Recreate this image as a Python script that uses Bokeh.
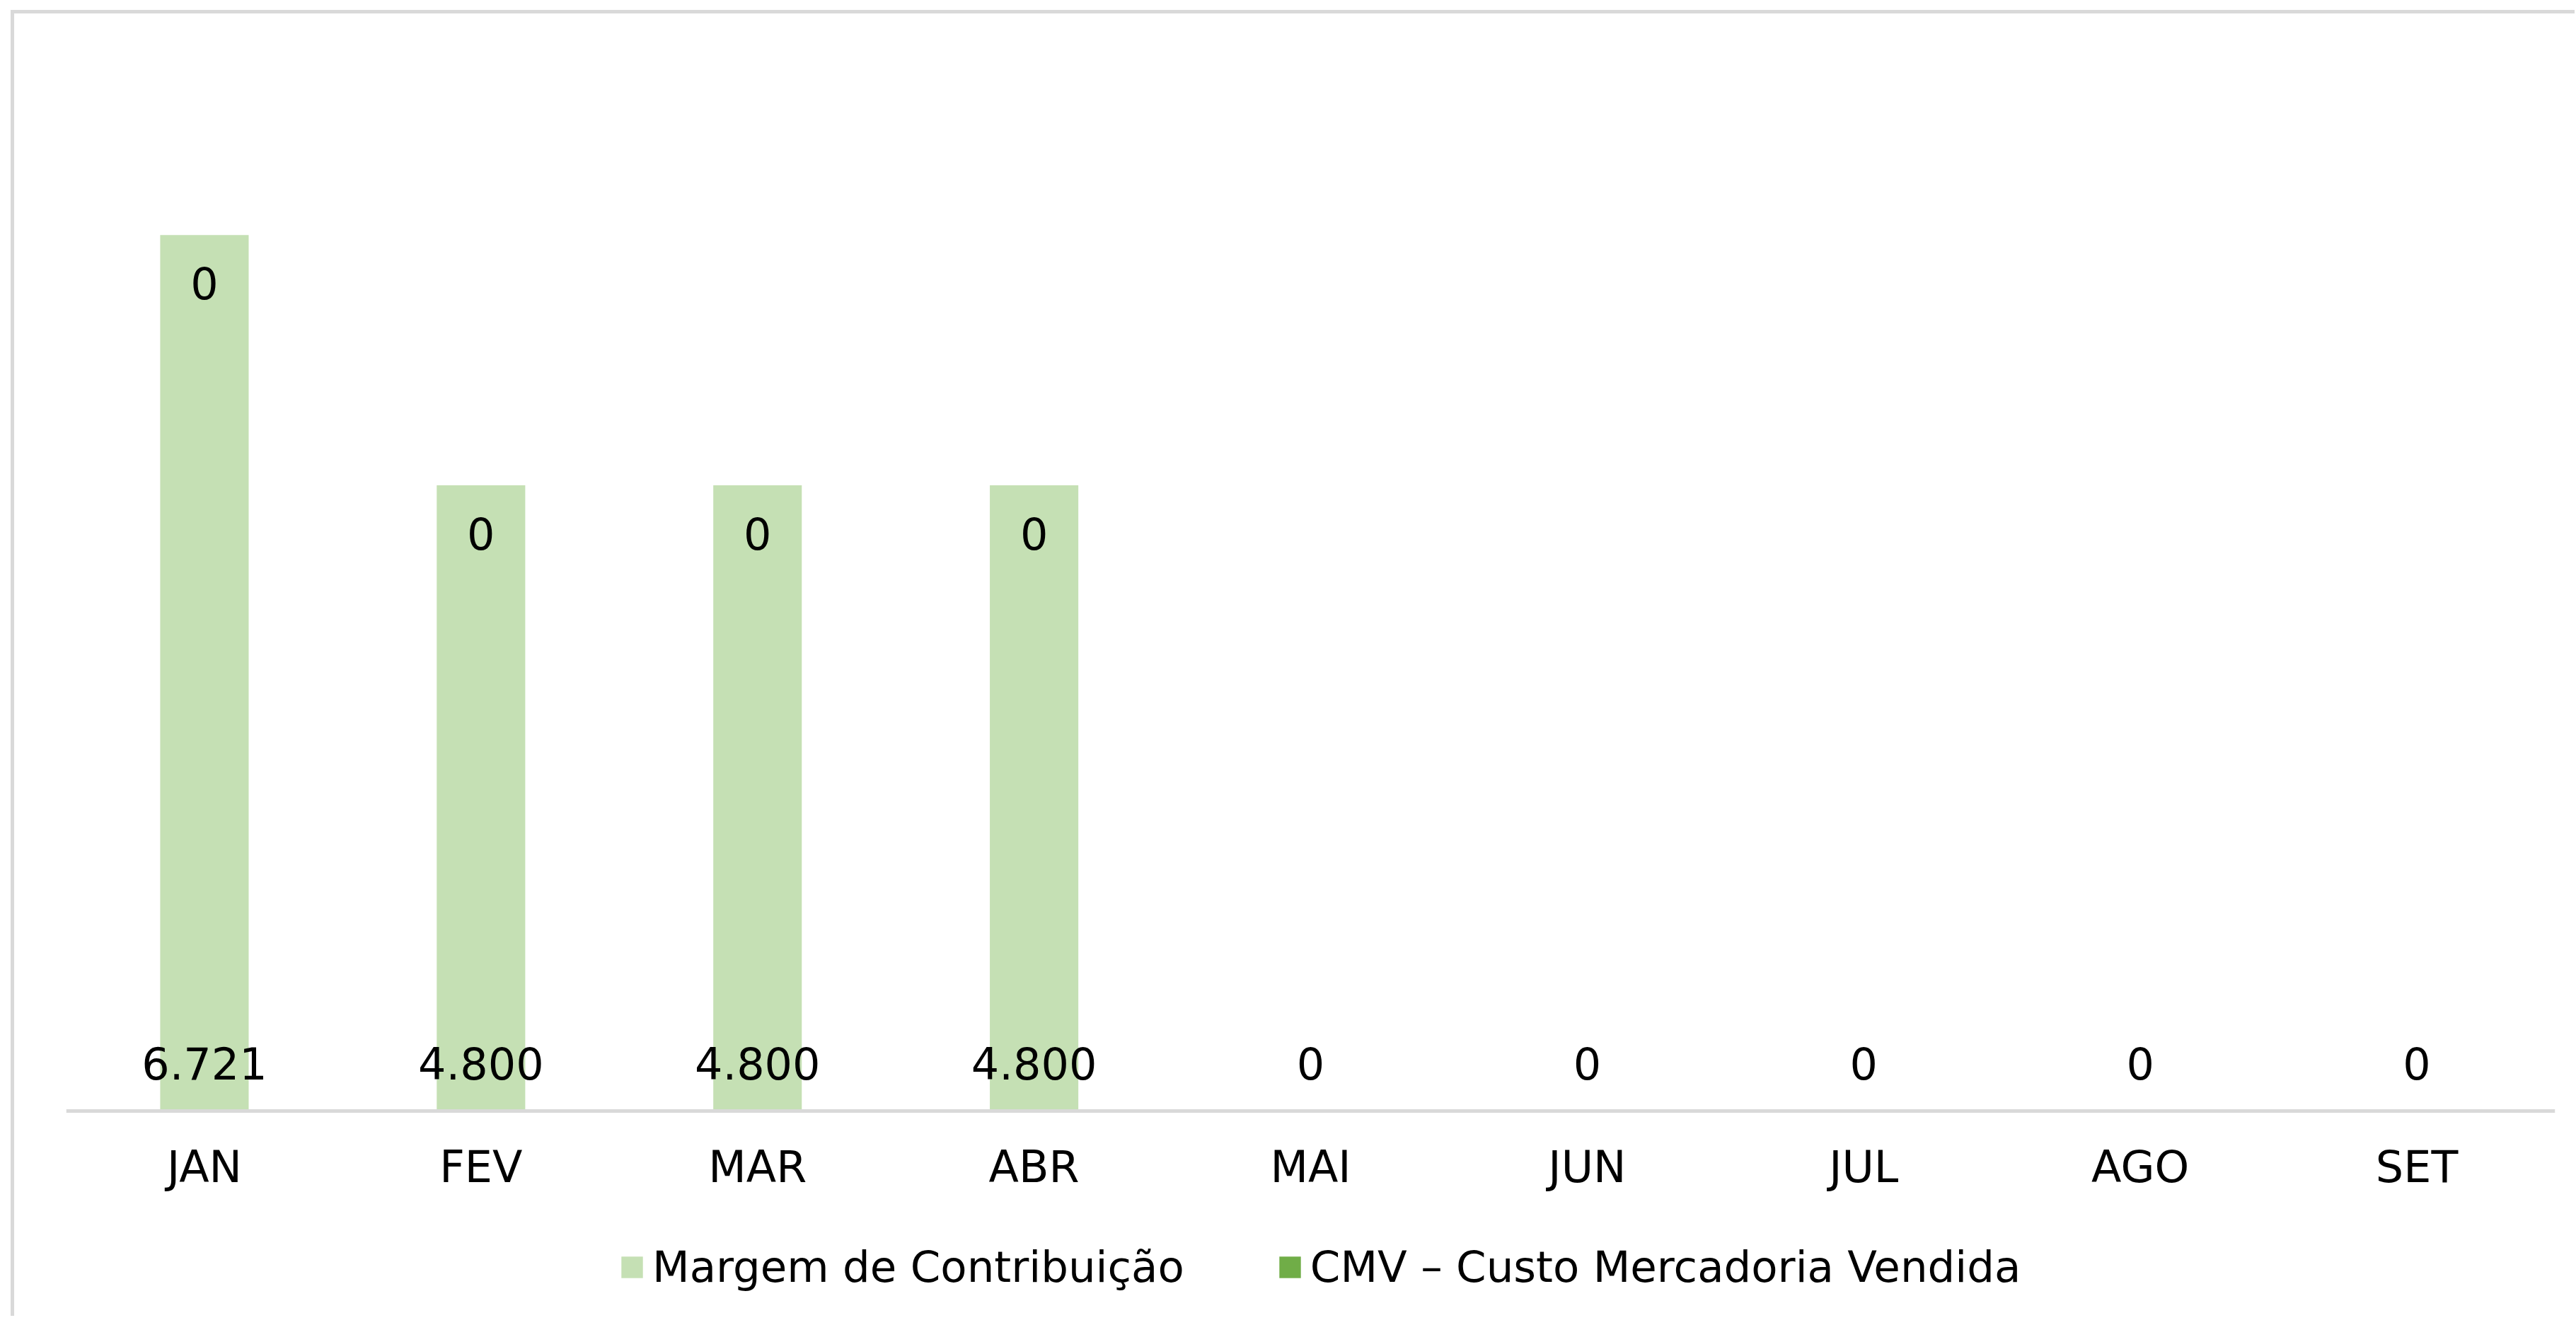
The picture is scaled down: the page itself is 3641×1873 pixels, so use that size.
from bokeh.plotting import figure
from bokeh.models import ColumnDataSource, Legend, LegendItem, Range1d, Span
from bokeh.core.properties import value
from bokeh.embed import file_html
from bokeh.resources import INLINE

# ---- data ----
months = ["JAN", "FEV", "MAR", "ABR", "MAI", "JUN", "JUL", "AGO", "SET"]
margem = [6721, 4800, 4800, 4800, 0, 0, 0, 0, 0]
cmv = [0, 0, 0, 0, 0, 0, 0, 0, 0]
series_names = ["Margem de Contribuição", "CMV – Custo Mercadoria Vendida"]
colors = ["#c5e0b4", "#70ad47"]
y_max = 8000

def fmt(v):
    return f"{v:,}".replace(",", ".")

FONT = "DejaVu Sans"

# layout (pixels): plotting area above the baseline and room below it
AREA_H = 1474
BELOW_H = 290
y_min = -y_max * BELOW_H / AREA_H

src = ColumnDataSource(dict(
    month=months,
    margem=margem,
    cmv=cmv,
    margem_lbl=[fmt(v) for v in margem],
    base=[0] * len(months),
))

p = figure(
    x_range=months,
    y_range=Range1d(y_min, y_max),
    frame_width=3518, frame_height=AREA_H + BELOW_H,
    output_backend="svg", toolbar_location=None,
    min_border_left=73, min_border_right=28, min_border_top=77, min_border_bottom=0,
)
p.styles = {"border-left": "5px solid #d9d9d9", "border-top": "5px solid #d9d9d9",
            "margin-left": "15px", "margin-top": "14px"}
p.outline_line_color = None
p.background_fill_color = "white"
p.border_fill_color = "white"
p.xgrid.grid_line_color = None
p.ygrid.grid_line_color = None
p.yaxis.visible = False
p.xaxis.visible = False
p.x_range.range_padding = 0

renderers = p.vbar_stack(["margem", "cmv"], x="month", width=0.32, color=colors,
                         line_color=None, source=src)

# category axis: baseline and month labels
p.add_layout(Span(location=0, dimension="width", line_color="#d9d9d9", line_width=5))
p.text(x="month", y="base", text="month", source=src,
       text_align="center", text_baseline="middle", y_offset=79,
       text_font=value(FONT), text_font_size="62px", text_color="#000000")

# labels of the Margem series, inside base
p.text(x="month", y="base", text="margem_lbl", source=src,
       text_align="center", text_baseline="middle", y_offset=-68,
       text_font=value(FONT), text_font_size="62px", text_color="#000000")

# labels of the CMV series, near the top of each stack (only where a bar exists)
idx = [i for i, m in enumerate(margem) if m + cmv[i] > 0]
cmv_src = ColumnDataSource(dict(
    month=[months[i] for i in idx],
    top=[margem[i] + cmv[i] for i in idx],
    lbl=[fmt(cmv[i]) for i in idx],
))
p.text(x="month", y="top", text="lbl", source=cmv_src,
       text_align="center", text_baseline="middle", y_offset=68,
       text_font=value(FONT), text_font_size="62px", text_color="#000000")

legend = Legend(
    items=[LegendItem(label=series_names[i], renderers=[renderers[i]]) for i in range(2)],
    orientation="horizontal", location=(781, 34),
    label_text_font=FONT, label_text_font_size="61px", label_text_color="#000000",
    glyph_width=38, glyph_height=38, label_standoff=10, spacing=130,
    border_line_color=None, background_fill_alpha=0,
    margin=0, padding=0,
)
p.add_layout(legend, "center")

open("out.html", "w").write(file_html(p, INLINE))
